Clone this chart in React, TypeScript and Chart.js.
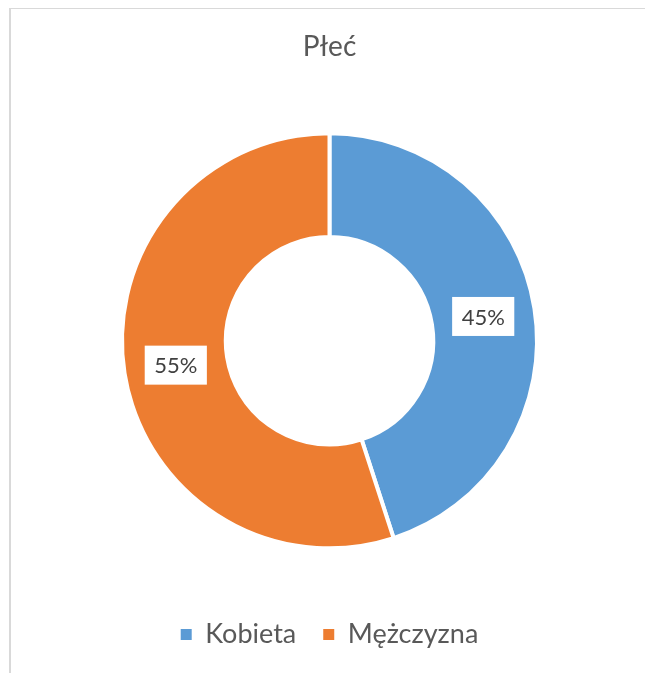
import React, { useEffect, useRef } from "react";
import { Chart, registerables } from "chart.js";

Chart.register(...registerables);

const title = "Płeć";
const categories = ["Kobieta", "Mężczyzna"];
const values = [45, 55];
const valueLabels = ["45%", "55%"];
const colors = ["#5B9BD5", "#ED7D31"];

const FONT = "Lato, 'Open Sans', sans-serif";

const labelPlugin = {
  id: "sliceLabels",
  afterDatasetsDraw(chart: any) {
    const ctx = chart.ctx;
    const meta = chart.getDatasetMeta(0);
    ctx.save();
    ctx.font = `22px ${FONT}`;
    ctx.textAlign = "center";
    ctx.textBaseline = "middle";
    meta.data.forEach((arc: any, i: number) => {
      const p = arc.tooltipPosition();
      const text = valueLabels[i];
      const w = ctx.measureText(text).width + 19;
      const h = 39;
      ctx.fillStyle = "#ffffff";
      ctx.fillRect(p.x - w / 2, p.y - h / 2, w, h);
      ctx.fillStyle = "#404040";
      ctx.fillText(text, p.x, p.y + 1);
    });
    ctx.restore();
  },
};

export default function App() {
  const ref = useRef<HTMLCanvasElement>(null);
  useEffect(() => {
    const chart = new Chart(ref.current!, {
      type: "doughnut",
      data: {
        labels: categories,
        datasets: [
          {
            data: values,
            backgroundColor: colors,
            borderColor: "#ffffff",
            borderWidth: 4,
          },
        ],
      },
      options: {
        animation: false,
        responsive: false,
        cutout: "50%",
        layout: { padding: { left: 120, right: 106, top: 0, bottom: 15 } },
        plugins: {
          title: {
            display: true,
            text: title,
            color: "#595959",
            font: { family: FONT, size: 28, weight: "normal" },
            padding: { top: 30, bottom: 24 },
          },
          legend: {
            position: "bottom",
            labels: {
              boxWidth: 11,
              boxHeight: 11,
              padding: 27,
              color: "#595959",
              font: { family: FONT, size: 27 },
              generateLabels(c: any) {
                const items = Chart.overrides.doughnut.plugins.legend.labels.generateLabels(c);
                return items.map((it: any) => ({
                  ...it,
                  lineWidth: 0,
                  strokeStyle: it.fillStyle,
                }));
              },
            },
          },
          tooltip: { enabled: false },
        },
      },
      plugins: [labelPlugin],
    });
    return () => chart.destroy();
  }, []);
  return (
    <div
      style={{
        position: "fixed",
        left: 0,
        top: 0,
        width: 645,
        height: 673,
        background: "#fff",
        overflow: "hidden",
      }}
    >
      <div
        style={{
          position: "absolute",
          left: 9,
          top: 8,
          width: 700,
          height: 700,
          borderLeft: "2px solid #d9d9d9",
          borderTop: "1px solid #d9d9d9",
        }}
      />
      <canvas
        ref={ref}
        width={645}
        height={673}
        style={{ position: "absolute", left: 0, top: 0 }}
      />
    </div>
  );
}
